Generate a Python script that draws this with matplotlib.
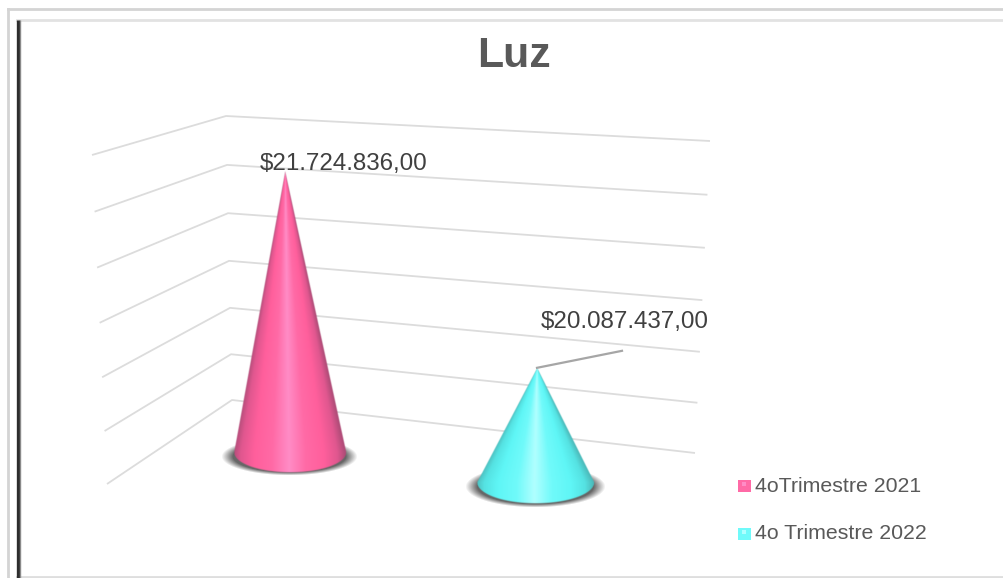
import matplotlib
matplotlib.use('Agg')
import matplotlib.pyplot as plt
import numpy as np
from matplotlib.patches import Rectangle

# data
title = 'Luz'
series = ['4oTrimestre 2021', '4o Trimestre 2022']
values = [21724836.0, 20087437.0]
value_labels = ['$21.724.836,00', '$20.087.437,00']
axis_ticks = [19000000, 19500000, 20000000, 20500000, 21000000, 21500000, 22000000]

plt.rcParams['font.family'] = ['Liberation Sans', 'DejaVu Sans']

# cone shading, edge -> centre
pink_stops = ['#b04c78', '#e0578f', '#ff5f9c', '#ff6aa6', '#ff8cc6']
cyan_stops = ['#4cbcbc', '#55e2e2', '#5ff6f6', '#70fafa', '#b0ffff']

# projected floor/top of the 3D wall: left end, back corner, right end (pixels)
wall_bottom = [(107, 484), (232, 400), (695, 453)]
wall_top = [(92, 155), (226, 116), (710, 141)]


def ease(t):
    # the perspective stretches the upper levels a bit
    return t - 0.04 * t * (1 - t)


def draw_grid(ax):
    lo, hi = axis_ticks[0], axis_ticks[-1]
    for tick in axis_ticks:
        t = ease((tick - lo) / (hi - lo))
        xs = [b[0] + (a[0] - b[0]) * t for a, b in zip(wall_top, wall_bottom)]
        ys = [b[1] + (a[1] - b[1]) * t for a, b in zip(wall_top, wall_bottom)]
        ax.plot(xs, ys, color='#dcdcdc', lw=1.3, solid_capstyle='butt', zorder=1)


def draw_shadow(ax, cx, cy, rx, ry):
    xx, yy = np.meshgrid(np.arange(cx - rx - 4, cx + rx + 4), np.arange(cy - ry - 4, cy + ry + 4))
    d = np.sqrt(((xx - cx) / rx) ** 2 + ((yy - cy) / ry) ** 2)
    img = np.zeros(d.shape + (4,))
    img[..., :3] = 0.3
    img[..., 3] = np.clip((1 - d) / 0.17, 0, 1) * 0.85
    ax.imshow(img, extent=(xx.min() - .5, xx.max() + .5, yy.max() + .5, yy.min() - .5),
              interpolation='bilinear', zorder=2, aspect='auto')


def draw_cone(ax, value, stops, tip_x, cx, base_y, rx, ry, px_per_unit):
    tip_y = base_y - (value - axis_ticks[0]) * px_per_unit
    x0, x1 = int(cx - rx - 2), int(cx + rx + 3)
    y0, y1 = int(tip_y - 2), int(base_y + ry + 3)
    xx, yy = np.meshgrid(np.arange(x0, x1, 0.5), np.arange(y0, y1, 0.5))

    frac = np.clip((yy - tip_y) / (base_y - tip_y), 0.001, 1)
    axis_x = tip_x + (cx - tip_x) * frac
    half = rx * frac
    u = (xx - axis_x) / half

    # shading follows the cone surface, so it converges at the tip
    rgb_stops = np.array([matplotlib.colors.to_rgb(c) for c in stops])
    pos = [0.0, 0.14, 0.38, 0.70, 1.0]
    w = np.clip(1 - np.abs(u + 0.02), 0, 1)
    img = np.zeros(xx.shape + (4,))
    for i in range(3):
        img[..., i] = np.interp(w, pos, rgb_stops[:, i])

    side = np.clip((half - np.abs(xx - axis_x)) + 0.5, 0, 1)
    side[yy < tip_y] = 0
    lower = np.sqrt(np.clip(1 - ((xx - cx) / rx) ** 2, 0, 1)) * ry + base_y
    bottom = np.clip(lower - yy + 0.5, 0, 1)
    img[..., 3] = side * bottom
    ax.imshow(img, extent=(x0 - .25, x1 - .25, y1 - .25, y0 - .25),
              interpolation='bilinear', zorder=3, aspect='auto')
    return tip_x, tip_y


def draw_frame(ax):
    # screenshot border
    ax.plot([8, 8], [578, 9], color='#d4d4d4', lw=2, zorder=6)
    ax.plot([8, 1004], [9, 9], color='#d4d4d4', lw=2, zorder=6)
    ax.plot([17, 1004], [20, 20], color='#e2e2e2', lw=2, zorder=6)
    ax.plot([17, 1004], [576.5, 576.5], color='#dedede', lw=2, zorder=6)
    ax.plot([18.5, 18.5], [20, 578], color='#2e2e2e', lw=2.4, solid_capstyle='butt', zorder=7)
    ax.plot([20.5, 20.5], [20, 578], color='#8a8a8a', lw=1, solid_capstyle='butt', zorder=7)


fig = plt.figure(figsize=(10.04, 5.78), dpi=100)
ax = fig.add_axes([0, 0, 1, 1])
ax.set_xlim(0, 1004)
ax.set_ylim(578, 0)
ax.axis('off')

draw_frame(ax)
draw_grid(ax)

draw_shadow(ax, 290, 457, 68, 19)
draw_shadow(ax, 536, 487, 70, 21)
tip1 = draw_cone(ax, values[0], pink_stops, 285, 290, 452, 56, 20, 103e-6)
tip2 = draw_cone(ax, values[1], cyan_stops, 537, 535.5, 482, 58.5, 21, 105e-6)
ax.set_xlim(0, 1004)
ax.set_ylim(578, 0)

# leader line of the second label
ax.plot([tip2[0], tip2[0] + 85], [tip2[1], tip2[1] - 17], color='#a6a6a6', lw=1.6, zorder=4)

ax.text(514, 56, title, ha='center', va='center', fontsize=30.8, fontweight='bold', color='#595959')
ax.text(tip1[0] + 59, tip1[1] - 7, value_labels[0], ha='center', va='center', fontsize=17.4, color='#404040', zorder=5)
ax.text(tip2[0] + 88, tip2[1] - 46, value_labels[1], ha='center', va='center', fontsize=17.4, color='#404040', zorder=5)

for name, stops, y in zip(series, [pink_stops, cyan_stops], [486, 533.5]):
    ax.add_patch(Rectangle((738, y - 6), 13, 12, color=stops[3], lw=0, zorder=5))
    ax.add_patch(Rectangle((742.5, y - 4), 4, 4, color=stops[4], lw=0, zorder=5))
    ax.text(755, y, name, ha='left', va='center', fontsize=15.3, color='#595959')

fig.savefig('out.png', dpi=100)
